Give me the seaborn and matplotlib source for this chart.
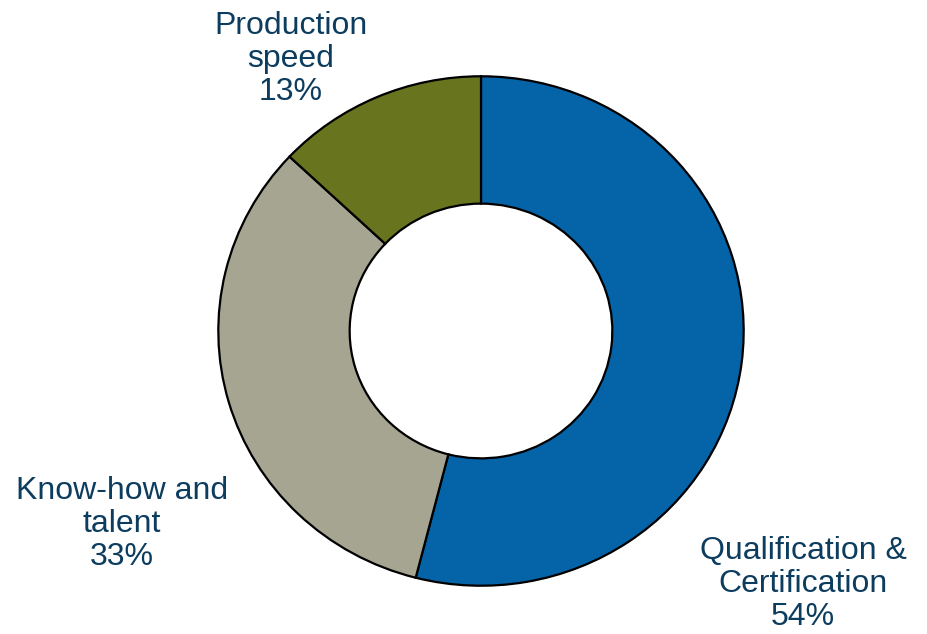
import matplotlib
matplotlib.use("Agg")
import matplotlib.pyplot as plt
import seaborn as sns

categories = ["Qualification &\nCertification", "Know-how and\ntalent", "Production\nspeed"]
shares = [54, 33, 13]
colors = ["#0563A8", "#A6A591", "#68741E"]
text_color = "#0C3C5E"

sns.set_theme(style="white")
plt.rcParams["font.family"] = ["Liberation Sans", "DejaVu Sans"]

W, H = 927, 634
fig = plt.figure(figsize=(W / 100, H / 100), dpi=100)
fig.patch.set_facecolor("white")

# donut area in pixel units (left, top, width, height)
left, top, w, h = 217, 75, 528, 512
ax = fig.add_axes([left / W, 1 - (top + h) / H, w / W, h / H])
ax.pie(
    shares,
    colors=colors,
    startangle=90,
    counterclock=False,
    radius=1.0,
    wedgeprops=dict(width=0.5, edgecolor="black", linewidth=1.6),
)
ax.set_aspect("auto")
ax.set_xlim(-1.005, 1.005)
ax.set_ylim(-1.005, 1.005)
ax.axis("off")

# label centres in pixels
label_pos = [(803, 584), (122, 524), (291, 59)]
for cat, val, (px, py) in zip(categories, shares, label_pos):
    fig.text(
        px / W, 1 - py / H, f"{cat}\n{val}%",
        ha="center", va="center", fontsize=23, color=text_color,
        linespacing=1.12,
    )

fig.savefig("out.png", dpi=100, facecolor="white")
